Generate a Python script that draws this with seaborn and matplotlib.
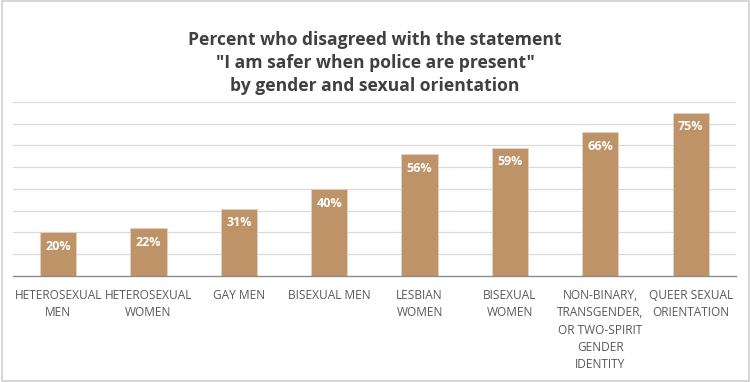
import matplotlib
matplotlib.use('Agg')
import matplotlib.pyplot as plt
import seaborn as sns
import pandas as pd
from matplotlib.patches import Rectangle

categories = ['HETEROSEXUAL\nMEN', 'HETEROSEXUAL\nWOMEN', 'GAY MEN', 'BISEXUAL MEN',
              'LESBIAN\nWOMEN', 'BISEXUAL\nWOMEN',
              'NON-BINARY,\nTRANSGENDER,\nOR TWO-SPIRIT\nGENDER\nIDENTITY',
              'QUEER SEXUAL\nORIENTATION']
values = [0.20, 0.22, 0.31, 0.40, 0.56, 0.59, 0.66, 0.75]
title = 'Percent who disagreed with the statement\n"I am safer when police are present"\nby gender and sexual orientation'

df = pd.DataFrame({'group': categories, 'pct': values})

sns.set_style('white')
plt.rcParams['font.family'] = ['Open Sans', 'DejaVu Sans']

fig = plt.figure(figsize=(7.5, 3.82), dpi=100)
ax = fig.add_axes([0.0173, 0.2775, 0.9637, 0.4555])

bar_color = '#BF9368'
sns.barplot(data=df, x='group', y='pct', color=bar_color, width=0.4,
            saturation=1, edgecolor='#E6D3BE', linewidth=0.6, ax=ax)

ax.set_ylim(0, 0.8)
ax.set_yticks([0.1 * i for i in range(1, 9)])
ax.yaxis.grid(True, color='#D9D9D9', linewidth=0.9)
ax.set_axisbelow(True)
ax.tick_params(axis='y', left=False, labelleft=False)
ax.tick_params(axis='x', bottom=False, labelsize=8.6, colors='#595959', pad=6)
for lbl in ax.get_xticklabels():
    lbl.set_linespacing(1.42)
ax.set_xlabel('')
ax.set_ylabel('')
for s in ['top', 'right', 'left']:
    ax.spines[s].set_visible(False)
ax.spines['bottom'].set_color('#8C8C8C')
ax.spines['bottom'].set_linewidth(1.0)

for p, v in zip(ax.patches, values):
    ax.text(p.get_x() + p.get_width() / 2, p.get_height() - 0.035, f'{v:.0%}',
            ha='center', va='top', color='white', fontsize=9, fontweight='bold')

fig.text(0.5, 0.835, title, ha='center', va='center', fontsize=12.6,
         fontweight='bold', color='#404040', linespacing=1.38)

fig.patches.append(Rectangle((0.002, 0.003), 0.996, 0.994, transform=fig.transFigure,
                             fill=False, edgecolor='#D0D0D0', linewidth=1.2))

fig.savefig('out.png', dpi=100)
